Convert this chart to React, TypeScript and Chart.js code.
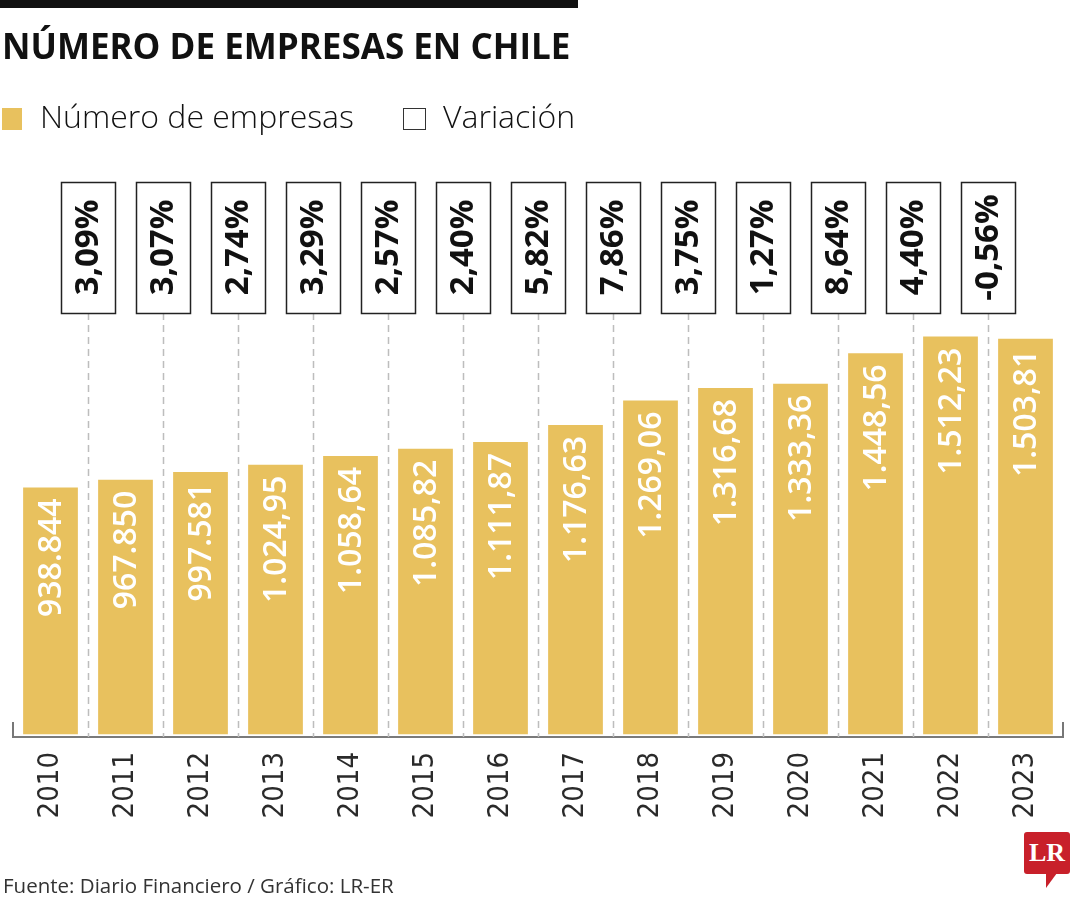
import React, { useEffect, useRef } from "react";
import { Chart, registerables } from "chart.js";

Chart.register(...registerables);

const years = ["2010", "2011", "2012", "2013", "2014", "2015", "2016", "2017", "2018", "2019", "2020", "2021", "2022", "2023"];
const empresas = [938844, 967850, 997581, 1024950, 1058640, 1085820, 1111870, 1176630, 1269060, 1316680, 1333360, 1448560, 1512230, 1503810];
const empresasLabels = ["938.844", "967.850", "997.581", "1.024,95", "1.058,64", "1.085,82", "1.111,87", "1.176,63", "1.269,06", "1.316,68", "1.333,36", "1.448,56", "1.512,23", "1.503,81"];
const variacion = ["3,09%", "3,07%", "2,74%", "3,29%", "2,57%", "2,40%", "5,82%", "7,86%", "3,75%", "1,27%", "8,64%", "4,40%", "-0,56%"];

const BAR = "#E8C15E";
const SANS = "'Open Sans', 'Noto Sans', sans-serif";

const overlayPlugin = {
  id: "overlay",
  beforeDatasetsDraw(chart: any) {
    const { ctx, chartArea, scales } = chart;
    const x = scales.x;
    ctx.save();
    ctx.strokeStyle = "#bdbdbd";
    ctx.lineWidth = 1.5;
    ctx.setLineDash([7, 5]);
    for (let i = 0; i < variacion.length; i++) {
      const px = Math.round((x.getPixelForValue(i) + x.getPixelForValue(i + 1)) / 2) + 0.5;
      ctx.beginPath();
      ctx.moveTo(px, chartArea.top + 131);
      ctx.lineTo(px, chartArea.bottom);
      ctx.stroke();
    }
    ctx.setLineDash([]);
    ctx.strokeStyle = "#777";
    ctx.lineWidth = 2;
    [chartArea.left, chartArea.right].forEach((px: number) => {
      ctx.beginPath();
      ctx.moveTo(px, chartArea.bottom - 15);
      ctx.lineTo(px, chartArea.bottom + 1);
      ctx.stroke();
    });
    ctx.restore();
  },
  afterDatasetsDraw(chart: any) {
    const { ctx, chartArea, scales } = chart;
    const x = scales.x;
    const meta = chart.getDatasetMeta(0);
    ctx.save();
    ctx.fillStyle = "#ffffff";
    ctx.font = `600 32px ${SANS}`;
    ctx.textAlign = "right";
    ctx.textBaseline = "middle";
    meta.data.forEach((bar: any, i: number) => {
      ctx.save();
      ctx.translate(bar.x + 1, bar.y + 11);
      ctx.rotate(-Math.PI / 2);
      ctx.fillText(empresasLabels[i], 0, 0);
      ctx.restore();
    });
    for (let i = 0; i < variacion.length; i++) {
      const cx = (x.getPixelForValue(i) + x.getPixelForValue(i + 1)) / 2;
      const top = chartArea.top;
      const w = 54;
      const h = 131;
      ctx.fillStyle = "#ffffff";
      ctx.fillRect(cx - w / 2, top, w, h);
      ctx.strokeStyle = "#222";
      ctx.lineWidth = 1.5;
      ctx.strokeRect(Math.round(cx - w / 2) + 0.5, top + 0.5, w, h);
      ctx.save();
      ctx.translate(cx, top + h / 2);
      ctx.rotate(-Math.PI / 2);
      ctx.fillStyle = "#111";
      ctx.font = `700 33px ${SANS}`;
      ctx.textAlign = "center";
      ctx.textBaseline = "middle";
      ctx.fillText(variacion[i], 0, 1);
      ctx.restore();
    }
    ctx.restore();
  },
};

function ChartCanvas() {
  const ref = useRef<HTMLCanvasElement>(null);
  useEffect(() => {
    if (!ref.current) return;
    const chart = new Chart(ref.current, {
      type: "bar",
      data: {
        labels: years,
        datasets: [
          {
            label: "Número de empresas",
            data: empresas,
            backgroundColor: BAR,
            borderWidth: 0,
            barPercentage: 0.73,
            categoryPercentage: 1,
          },
        ],
      },
      options: {
        animation: false,
        responsive: false,
        devicePixelRatio: 1,
        layout: { padding: { left: 13, right: 17, top: 182, bottom: 0 } },
        plugins: { legend: { display: false }, tooltip: { enabled: false }, title: { display: false } },
        scales: {
          x: {
            type: "category",
            offset: true,
            grid: { display: false, drawTicks: false },
            border: { display: true, color: "#7a7a7a", width: 2 },
            ticks: {
              minRotation: 90,
              maxRotation: 90,
              padding: 15,
              color: "#2a2a2a",
              font: { family: "'DejaVu Sans Condensed', 'Liberation Sans', sans-serif", size: 29, weight: "normal" },
            },
            afterFit: (scale: any) => {
              scale.height = 163;
            },
          },
          y: { display: false, min: -10000, max: 2100000 },
        },
      },
      plugins: [overlayPlugin],
    });
    return () => chart.destroy();
  }, []);
  return <canvas ref={ref} width={1080} height={900} style={{ position: "absolute", left: 0, top: 0, width: 1080, height: 900 }} />;
}

export default function App() {
  return (
    <div style={{ position: "absolute", left: 0, top: 0, width: 1080, height: 900, background: "#fff", overflow: "hidden", fontFamily: SANS }}>
      <ChartCanvas />
      <div style={{ position: "absolute", left: 0, top: 0, width: 578, height: 8, background: "#111" }} />
      <div style={{ position: "absolute", left: 2, top: 28, fontSize: 35, lineHeight: "35px", fontWeight: 700, color: "#111", whiteSpace: "nowrap" }}>
        NÚMERO DE EMPRESAS EN CHILE
      </div>
      <div style={{ position: "absolute", left: 2, top: 108, width: 20, height: 22, background: BAR }} />
      <div style={{ position: "absolute", left: 40, top: 100, fontSize: 32, lineHeight: "32px", fontWeight: 300, color: "#111", whiteSpace: "nowrap" }}>
        Número de empresas
      </div>
      <div style={{ position: "absolute", left: 403, top: 108, width: 21, height: 20, border: "1.5px solid #333", background: "#fff" }} />
      <div style={{ position: "absolute", left: 443, top: 100, fontSize: 32, lineHeight: "32px", fontWeight: 300, color: "#111", whiteSpace: "nowrap" }}>
        Variación
      </div>
      <div style={{ position: "absolute", left: 3, top: 875, fontSize: 20.5, lineHeight: "21px", fontWeight: 400, color: "#333", whiteSpace: "nowrap" }}>
        Fuente: Diario Financiero / Gráfico: LR-ER
      </div>
      <div style={{ position: "absolute", left: 1024, top: 832, width: 46, height: 42, background: "#C8202A", borderRadius: 3, display: "flex", alignItems: "center", justifyContent: "center" }}>
        <span style={{ fontFamily: "'Liberation Serif', 'DejaVu Serif', serif", fontWeight: 700, fontSize: 26, color: "#fff", lineHeight: "26px" }}>LR</span>
      </div>
      <div style={{ position: "absolute", left: 1046, top: 873, width: 0, height: 0, borderLeft: "0px solid transparent", borderRight: "11px solid transparent", borderTop: "15px solid #C8202A" }} />
    </div>
  );
}
